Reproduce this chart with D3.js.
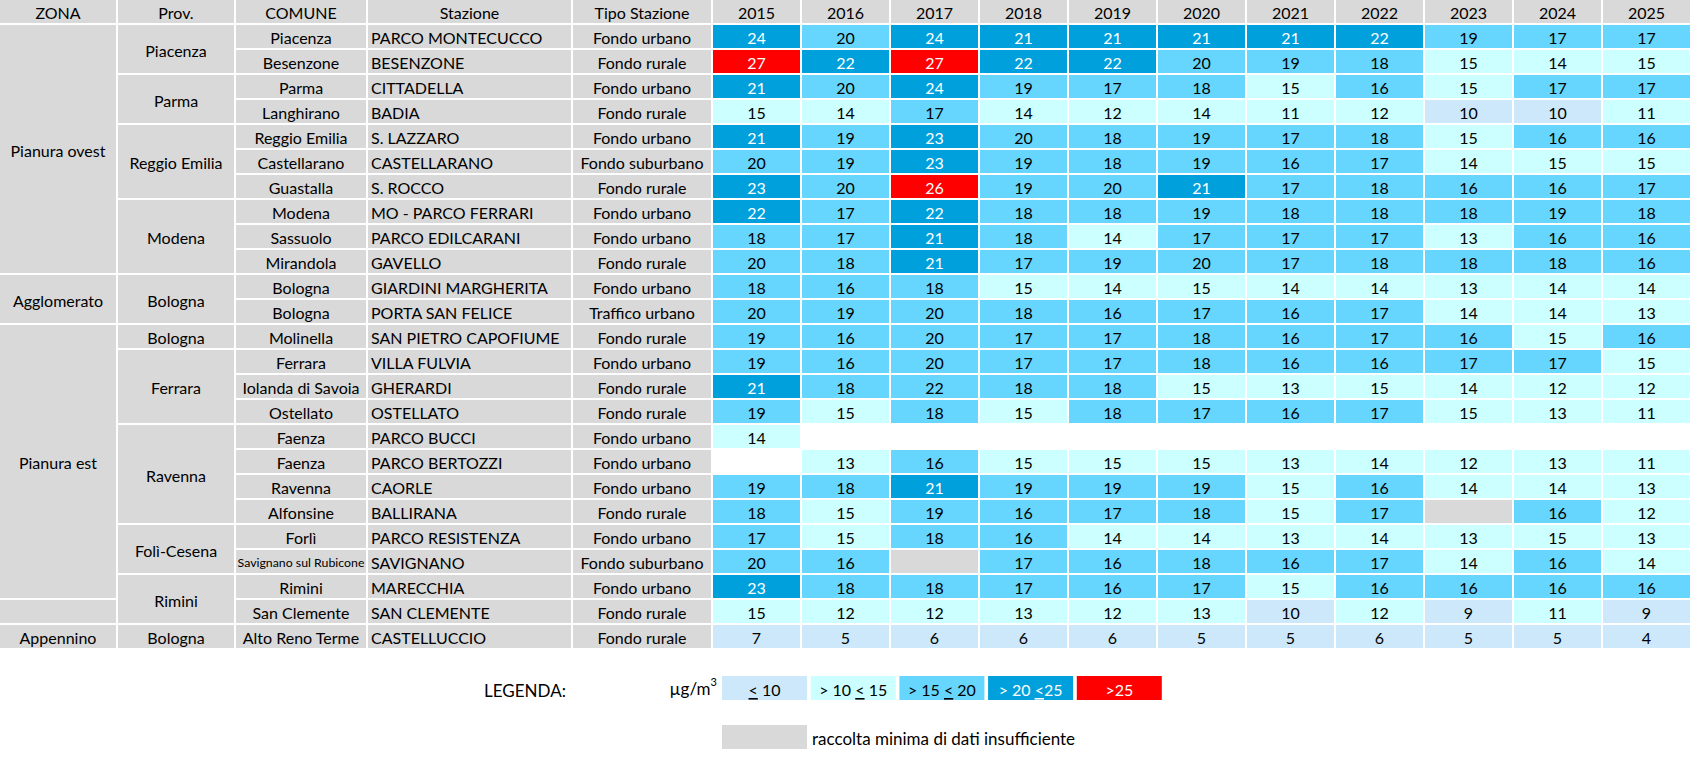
<!DOCTYPE html>
<html>
<head>
<meta charset="utf-8">
<script src="https://cdn.jsdelivr.net/npm/d3@7"></script>
<style>
  html, body { margin: 0; padding: 0; background: #ffffff; }
  svg { display: block; font-family: Lato, "Open Sans", sans-serif; }
</style>
</head>
<body>
<svg id="chart" width="1692" height="776"></svg>
<script>
// ---------------- DATA ----------------
const headers = ["ZONA", "Prov.", "COMUNE", "Stazione", "Tipo Stazione"];
const years = ["2015","2016","2017","2018","2019","2020","2021","2022","2023","2024","2025"];

const zones = [
  { name: "Pianura ovest", from: 0, to: 9 },
  { name: "Agglomerato", from: 10, to: 11 },
  { name: "Pianura est", from: 12, to: 22 },
  { name: "", from: 23, to: 23 },
  { name: "Appennino", from: 24, to: 24 }
];

const provinces = [
  { name: "Piacenza", from: 0, to: 1 },
  { name: "Parma", from: 2, to: 3 },
  { name: "Reggio Emilia", from: 4, to: 6 },
  { name: "Modena", from: 7, to: 9 },
  { name: "Bologna", from: 10, to: 11 },
  { name: "Bologna", from: 12, to: 12 },
  { name: "Ferrara", from: 13, to: 15 },
  { name: "Ravenna", from: 16, to: 19 },
  { name: "Folì-Cesena", from: 20, to: 21 },
  { name: "Rimini", from: 22, to: 23 },
  { name: "Bologna", from: 24, to: 24 }
];

const comuni = ["Piacenza","Besenzone","Parma","Langhirano","Reggio Emilia","Castellarano","Guastalla",
  "Modena","Sassuolo","Mirandola","Bologna","Bologna","Molinella","Ferrara","Iolanda di Savoia","Ostellato",
  "Faenza","Faenza","Ravenna","Alfonsine","Forlì","Savignano sul Rubicone","Rimini","San Clemente","Alto Reno Terme"];

const stazioni = ["PARCO MONTECUCCO","BESENZONE","CITTADELLA","BADIA","S. LAZZARO","CASTELLARANO","S. ROCCO",
  "MO - PARCO FERRARI","PARCO EDILCARANI","GAVELLO","GIARDINI MARGHERITA","PORTA SAN FELICE","SAN PIETRO CAPOFIUME",
  "VILLA FULVIA","GHERARDI","OSTELLATO","PARCO BUCCI","PARCO BERTOZZI","CAORLE","BALLIRANA","PARCO RESISTENZA",
  "SAVIGNANO","MARECCHIA","SAN CLEMENTE","CASTELLUCCIO"];

const tipi = ["Fondo urbano","Fondo rurale","Fondo urbano","Fondo rurale","Fondo urbano","Fondo suburbano","Fondo rurale",
  "Fondo urbano","Fondo urbano","Fondo rurale","Fondo urbano","Traffico urbano","Fondo rurale","Fondo urbano","Fondo rurale",
  "Fondo rurale","Fondo urbano","Fondo urbano","Fondo urbano","Fondo rurale","Fondo urbano","Fondo suburbano","Fondo urbano",
  "Fondo rurale","Fondo rurale"];

// null = no data (empty cell), "x" = raccolta minima di dati insufficiente
const values = [
  [24,20,24,21,21,21,21,22,19,17,17],
  [27,22,27,22,22,20,19,18,15,14,15],
  [21,20,24,19,17,18,15,16,15,17,17],
  [15,14,17,14,12,14,11,12,10,10,11],
  [21,19,23,20,18,19,17,18,15,16,16],
  [20,19,23,19,18,19,16,17,14,15,15],
  [23,20,26,19,20,21,17,18,16,16,17],
  [22,17,22,18,18,19,18,18,18,19,18],
  [18,17,21,18,14,17,17,17,13,16,16],
  [20,18,21,17,19,20,17,18,18,18,16],
  [18,16,18,15,14,15,14,14,13,14,14],
  [20,19,20,18,16,17,16,17,14,14,13],
  [19,16,20,17,17,18,16,17,16,15,16],
  [19,16,20,17,17,18,16,16,17,17,15],
  [21,18,22,18,18,15,13,15,14,12,12],
  [19,15,18,15,18,17,16,17,15,13,11],
  [14,null,null,null,null,null,null,null,null,null,null],
  [null,13,16,15,15,15,13,14,12,13,11],
  [19,18,21,19,19,19,15,16,14,14,13],
  [18,15,19,16,17,18,15,17,"x",16,12],
  [17,15,18,16,14,14,13,14,13,15,13],
  [20,16,"x",17,16,18,16,17,14,16,14],
  [23,18,18,17,16,17,15,16,16,16,16],
  [15,12,12,13,12,13,10,12,9,11,9],
  [7,5,6,6,6,5,5,6,5,5,4]
];

// cells whose class in the source differs from the rounded value (row, year, class index 0..4)
const classOverrides = [ { row: 14, year: "2017", cls: 2 } ];

const thresholds = [10.5, 15.5, 20.5, 25.5];
const classColors = ["#cce8fa", "#ccffff", "#66d6ff", "#00a0dc", "#ff0000"];
const classText = ["#000000", "#000000", "#000000", "#ffffff", "#ffffff"];
const legendLabels = [
  ["", "<", " 10"],
  ["> 10 ", "<", " 15"],
  ["> 15 ", "<", " 20"],
  ["> 20 ", "<", "25"],
  [">25", "", ""]
];
const legendTitle = "LEGENDA:";
const legendUnit = "µg/m";
const legendMissing = "raccolta minima di dati insufficiente";

// ---------------- LAYOUT ----------------
const GREY = "#d9d9d9";
const FONT = 16;
const LEGFONT = 17;
const gap = 2;
const labelEdges = [0, 118, 236, 368, 573, 713];
const tableRight = 1690;
const nRows = values.length;

const svg = d3.select("#chart");

const yBand = d3.scaleBand().domain(d3.range(nRows + 1)).range([0, 25 * (nRows + 1)]);
const rowTop = i => yBand(i + 1);          // data row i (header at index 0)
const rowH = yBand.step() - gap;
const xYear = d3.scaleBand().domain(years).range([labelEdges[5], tableRight + gap]);
const colW = xYear.step() - gap;

const colorScale = d3.scaleThreshold().domain(thresholds).range(d3.range(5));

function cellClass(v, r, y) {
  const o = classOverrides.find(d => d.row === r && d.year === y);
  if (o) return o.cls;
  return colorScale(v);
}

function addText(g, x, y, anchor, txt, fill, size) {
  return g.append("text").attr("x", x).attr("y", y)
    .attr("text-anchor", anchor).attr("dominant-baseline", "central")
    .attr("font-size", size || FONT).attr("fill", fill || "#000").text(txt);
}

// shrink a text so it stays inside its cell
function fit(sel, maxW) {
  const w = sel.node().getComputedTextLength();
  if (w > maxW) sel.attr("font-size", FONT * maxW / w);
  return sel;
}

// header row
const headerG = svg.append("g");
headers.forEach((h, i) => {
  const x0 = labelEdges[i], x1 = labelEdges[i + 1] - gap;
  headerG.append("rect").attr("x", x0).attr("y", yBand(0)).attr("width", x1 - x0).attr("height", rowH).attr("fill", GREY);
  addText(headerG, (x0 + x1) / 2, yBand(0) + rowH / 2 + 1, "middle", h);
});
years.forEach(yr => {
  headerG.append("rect").attr("x", xYear(yr)).attr("y", yBand(0)).attr("width", colW).attr("height", rowH).attr("fill", GREY);
  addText(headerG, xYear(yr) + colW / 2, yBand(0) + rowH / 2 + 1, "middle", yr);
});

// merged group cells
function mergedColumn(list, colIdx) {
  const g = svg.append("g");
  const x0 = labelEdges[colIdx], x1 = labelEdges[colIdx + 1] - gap;
  list.forEach(d => {
    const yTop = rowTop(d.from), yBot = rowTop(d.to) + rowH;
    g.append("rect").attr("x", x0).attr("y", yTop).attr("width", x1 - x0).attr("height", yBot - yTop).attr("fill", GREY);
    addText(g, (x0 + x1) / 2, (yTop + yBot) / 2 + 1, "middle", d.name);
  });
}
mergedColumn(zones, 0);
mergedColumn(provinces, 1);

// per-row label columns
const rowsG = svg.append("g");
comuni.forEach((c, i) => {
  const y = rowTop(i);
  // COMUNE (centered)
  {
    const x0 = labelEdges[2], x1 = labelEdges[3] - gap;
    rowsG.append("rect").attr("x", x0).attr("y", y).attr("width", x1 - x0).attr("height", rowH).attr("fill", GREY);
    fit(addText(rowsG, (x0 + x1) / 2, y + rowH / 2 + 1, "middle", c), x1 - x0 - 3);
  }
  // Stazione (left)
  {
    const x0 = labelEdges[3], x1 = labelEdges[4] - gap;
    rowsG.append("rect").attr("x", x0).attr("y", y).attr("width", x1 - x0).attr("height", rowH).attr("fill", GREY);
    fit(addText(rowsG, x0 + 3, y + rowH / 2 + 1, "start", stazioni[i]), x1 - x0 - 5);
  }
  // Tipo (center)
  {
    const x0 = labelEdges[4], x1 = labelEdges[5] - gap;
    rowsG.append("rect").attr("x", x0).attr("y", y).attr("width", x1 - x0).attr("height", rowH).attr("fill", GREY);
    fit(addText(rowsG, (x0 + x1) / 2, y + rowH / 2 + 1, "middle", tipi[i]), x1 - x0 - 3);
  }
});

// value cells
const cellsG = svg.append("g");
values.forEach((row, r) => {
  row.forEach((v, j) => {
    if (v === null) return;
    const yr = years[j];
    const x = xYear(yr), y = rowTop(r);
    if (v === "x") {
      cellsG.append("rect").attr("x", x).attr("y", y).attr("width", colW).attr("height", rowH).attr("fill", GREY);
      return;
    }
    const k = cellClass(v, r, yr);
    cellsG.append("rect").attr("x", x).attr("y", y).attr("width", colW).attr("height", rowH).attr("fill", classColors[k]);
    addText(cellsG, x + colW / 2, y + rowH / 2 + 1, "middle", v, classText[k]);
  });
});

// legend
const legG = svg.append("g");
const legY = 676, legH = 24, legX0 = 722, legStep = 88.7, legW = 85, missY = 725;
addText(legG, 525, legY + legH / 2 + 2, "middle", legendTitle, "#000", LEGFONT);
const unit = addText(legG, legX0 - 5, legY + legH / 2, "end", null, "#000", LEGFONT);
unit.append("tspan").text(legendUnit);
unit.append("tspan").attr("dy", -7).attr("font-size", 11).text("3");

legendLabels.forEach((parts, k) => {
  const x = legX0 + k * legStep;
  legG.append("rect").attr("x", x).attr("y", legY).attr("width", legW).attr("height", legH).attr("fill", classColors[k]);
  const t = addText(legG, x + legW / 2, legY + legH / 2 + 1, "middle", null, classText[k]);
  t.append("tspan").text(parts[0]);
  if (parts[1]) t.append("tspan").style("text-decoration", "underline").text(parts[1]);
  if (parts[2]) t.append("tspan").text(parts[2]);
});

legG.append("rect").attr("x", legX0).attr("y", missY).attr("width", legW).attr("height", legH).attr("fill", GREY);
addText(legG, legX0 + legW + 5, missY + legH / 2 + 1, "start", legendMissing, "#000", LEGFONT);
</script>
</body>
</html>
